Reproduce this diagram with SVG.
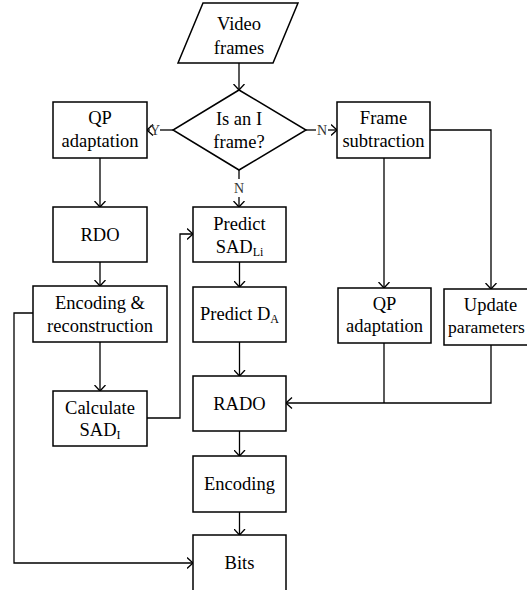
<svg xmlns="http://www.w3.org/2000/svg" width="527" height="590" viewBox="0 0 527 590">
<style>
.box{fill:#fff;stroke:#000;stroke-width:1.5}
.t{font-family:"Liberation Serif","Times New Roman",serif;font-size:18.5px;fill:#000;text-anchor:middle}
.sub{font-size:12px}
.lbl{font-family:"Liberation Serif","Times New Roman",serif;font-size:14px;fill:#333;text-anchor:middle}
.c{fill:none;stroke:#000;stroke-width:1.3}
.a{marker-end:url(#arr)}
</style>
<defs>
<marker id="arr" viewBox="0 0 7 12" refX="6.5" refY="6" markerWidth="7" markerHeight="12" orient="auto" markerUnits="userSpaceOnUse">
<path d="M0.5,0.5 L6.5,6 L0.5,11.5" fill="none" stroke="#000" stroke-width="1.3"/>
</marker>
</defs>
<rect width="527" height="590" fill="#fff"/>
<g id="connectors">
<path class="c a" d="M239,63 V90"/>
<path class="c" d="M173,130 H160"/>
<path class="c a" d="M150,130 H147"/>
<path class="c" d="M306,130 H316"/>
<path class="c a" d="M328,130 H337"/>
<path class="c" d="M239,170 V179"/>
<path class="c a" d="M239,197 V207"/>
<path class="c a" d="M100,158 V207"/>
<path class="c a" d="M100,262 V286"/>
<path class="c a" d="M100,342 V391"/>
<path class="c a" d="M147,418 H180 V234 H193"/>
<path class="c a" d="M33,313 H14 V563 H193"/>
<path class="c a" d="M239.5,262 V287"/>
<path class="c a" d="M239.5,342 V376"/>
<path class="c a" d="M239.5,431 V456"/>
<path class="c a" d="M239.5,512 V535"/>
<path class="c a" d="M384,158 V288"/>
<path class="c a" d="M430,130 H491 V289"/>
<path class="c" d="M384,343 V403"/>
<path class="c a" d="M491,345 V403 H286"/>
<text class="lbl" x="155" y="135">Y</text>
<text class="lbl" x="322" y="135">N</text>
<text class="lbl" x="239" y="193">N</text>
</g>
<g id="video">
<polygon class="box" points="203,3 298,3 273,63 178,63"/>
<text class="t" x="239" y="30">Video</text>
<text class="t" x="239" y="54">frames</text>
</g>
<g id="decision">
<polygon class="box" points="239,90 306,130 239,170 173,130"/>
<text class="t" x="239" y="125">Is an I</text>
<text class="t" x="239" y="148">frame?</text>
</g>
<g id="qp-left">
<rect class="box" x="53" y="102" width="94" height="56"/>
<text class="t" x="100" y="124">QP</text>
<text class="t" x="100" y="147">adaptation</text>
</g>
<g id="rdo">
<rect class="box" x="53" y="207" width="94" height="55"/>
<text class="t" x="100" y="241">RDO</text>
</g>
<g id="enc-rec">
<rect class="box" x="33" y="286" width="134" height="56"/>
<text class="t" x="100" y="309">Encoding &amp;</text>
<text class="t" x="100" y="332">reconstruction</text>
</g>
<g id="calc">
<rect class="box" x="53" y="391" width="94" height="55"/>
<text class="t" x="100" y="414">Calculate</text>
<text class="t" x="100" y="436">SAD<tspan class="sub" dy="3">I</tspan></text>
</g>
<g id="pred-sad">
<rect class="box" x="193" y="207" width="93" height="55"/>
<text class="t" x="239.5" y="230">Predict</text>
<text class="t" x="239.5" y="253">SAD<tspan class="sub" dy="3">Li</tspan></text>
</g>
<g id="pred-d">
<rect class="box" x="193" y="287" width="93" height="55"/>
<text class="t" x="239.5" y="320">Predict D<tspan class="sub" dy="3">A</tspan></text>
</g>
<g id="rado">
<rect class="box" x="193" y="376" width="93" height="55"/>
<text class="t" x="239.5" y="410">RADO</text>
</g>
<g id="encoding">
<rect class="box" x="193" y="456" width="93" height="56"/>
<text class="t" x="239.5" y="490">Encoding</text>
</g>
<g id="bits">
<rect class="box" x="193" y="535" width="93" height="70"/>
<text class="t" x="239.5" y="569">Bits</text>
</g>
<g id="frame-sub">
<rect class="box" x="337" y="102" width="93" height="56"/>
<text class="t" x="383.5" y="124">Frame</text>
<text class="t" x="383.5" y="147">subtraction</text>
</g>
<g id="qp-right">
<rect class="box" x="338" y="288" width="93" height="55"/>
<text class="t" x="384.5" y="310">QP</text>
<text class="t" x="384.5" y="332">adaptation</text>
</g>
<g id="update">
<rect class="box" x="444" y="289" width="93" height="56"/>
<text class="t" x="490.5" y="311">Update</text>
<text class="t" x="486.5" y="333" style="font-size:17.5px">parameters</text>
</g>
</svg>
